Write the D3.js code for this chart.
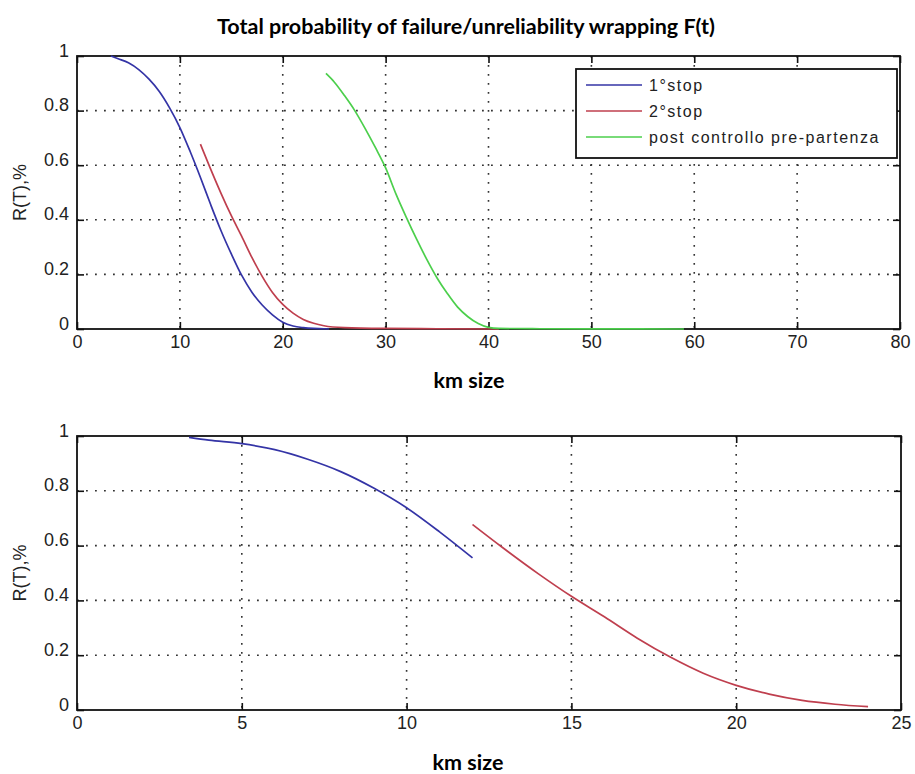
<!DOCTYPE html>
<html lang="en">
<head>
<meta charset="UTF-8">
<title>Total probability of failure/unreliability wrapping F(t)</title>
<script src="https://d3js.org/d3.v7.min.js"></script>
<style>
    body { margin: 0; background: #fff; }
    .tick text { font-family: "Liberation Sans", Arial, sans-serif; font-size: 18px; fill: #222; }
    .tick line { stroke: #111; stroke-width: 1.6; }
    .heading { font-family: Lato, "Open Sans", sans-serif; font-weight: bold; fill: #000; }
    .ylabel, .legend-text { font-family: "Liberation Sans", Arial, sans-serif; fill: #222; }
</style>
</head>
<body>
<svg id="chart" width="915" height="774"></svg>
<script>

// 1°stop (top panel, full range)
var stop1X = [3.3, 4, 5, 6, 7, 8, 9, 10, 11, 12, 13, 14, 15, 16, 17, 18, 19, 20, 21, 22, 23, 24, 24.5];
var stop1Y = [1.0, 0.99, 0.975, 0.95, 0.915, 0.87, 0.81, 0.738, 0.65, 0.555, 0.455, 0.36, 0.275, 0.197, 0.135, 0.088, 0.052, 0.025, 0.011, 0.005, 0.002, 0.001, 0.0];

// 2°stop (top panel, full range)
var stop2X = [12, 12.9, 14, 15, 16, 17, 18, 19, 20, 21, 22, 23, 24, 26, 30, 35, 41];
var stop2Y = [0.677, 0.594, 0.497, 0.415, 0.34, 0.262, 0.193, 0.134, 0.09, 0.058, 0.035, 0.021, 0.012, 0.005, 0.002, 0.001, 0.0];

// post controllo pre-partenza
var postX = [24.2, 25, 26, 27, 28, 29, 30, 31, 32, 33, 34, 35, 36, 37, 38, 39, 40, 41, 45, 50, 59];
var postY = [0.936, 0.905, 0.855, 0.80, 0.735, 0.665, 0.59, 0.495, 0.41, 0.33, 0.255, 0.187, 0.13, 0.08, 0.045, 0.02, 0.006, 0.002, 0.001, 0.0005, 0.0];

// bottom panel (zoom on 0-25 km)
var zoomStop1X = [3.4, 4, 5, 6, 7, 8, 9, 10, 11, 12];
var zoomStop1Y = [0.995, 0.985, 0.972, 0.95, 0.915, 0.87, 0.81, 0.738, 0.65, 0.555];
var zoomStop2X = [12, 12.9, 14, 15, 16, 17, 18, 19, 20, 21, 22, 23, 24];
var zoomStop2Y = [0.677, 0.594, 0.497, 0.415, 0.34, 0.262, 0.193, 0.134, 0.09, 0.058, 0.035, 0.021, 0.012];

var topXTicks = [0, 10, 20, 30, 40, 50, 60, 70, 80];
var bottomXTicks = [0, 5, 10, 15, 20, 25];
var yTicks = [0, 0.2, 0.4, 0.6, 0.8, 1];
var yTickLabels = ["0", "0.2", "0.4", "0.6", "0.8", "1"];

var legendLabels = ["1°stop", "2°stop", "post controllo pre-partenza"];
var seriesColors = ["#3434a6", "#bf3f4e", "#4ccf4c"];

var titleText = "Total probability of failure/unreliability wrapping F(t)";
var xTitle = "km size";
var yTitle = "R(T),%";

function toPoints(xs, ys) {
    return xs.map(function(d, i) { return [d, ys[i]]; });
}

var svg = d3.select("#chart");

function draw_panel(p) {
    var g = svg.append("g").attr("transform", "translate(" + p.left + "," + p.top + ")");

    var x = d3.scaleLinear().domain([0, p.xMax]).range([0, p.width]);
    var y = d3.scaleLinear().domain([0, 1]).range([p.height, 0]);

    // dotted grid
    g.selectAll(".vgrid")
        .data(p.xTicks.slice(1, -1))
        .enter().append("line")
        .attr("x1", function(d) { return x(d); })
        .attr("x2", function(d) { return x(d); })
        .attr("y1", 0).attr("y2", p.height)
        .attr("stroke", "#333").attr("stroke-width", 1.6)
        .attr("stroke-dasharray", "1.8,7.2");
    g.selectAll(".hgrid")
        .data(yTicks.slice(1, -1))
        .enter().append("line")
        .attr("y1", function(d) { return y(d); })
        .attr("y2", function(d) { return y(d); })
        .attr("x1", 0).attr("x2", p.width)
        .attr("stroke", "#333").attr("stroke-width", 1.6)
        .attr("stroke-dasharray", "1.8,7.2");

    // inward ticks on all four sides
    g.append("g")
        .attr("transform", "translate(0," + p.height + ")")
        .call(d3.axisBottom(x).tickValues(p.xTicks).tickSize(-7).tickSizeOuter(0).tickPadding(4).tickFormat(d3.format("d")))
        .call(function(a) { a.select(".domain").remove(); });
    g.append("g")
        .call(d3.axisTop(x).tickValues(p.xTicks).tickSize(-7).tickSizeOuter(0).tickFormat(""))
        .call(function(a) { a.select(".domain").remove(); });
    g.append("g")
        .call(d3.axisLeft(y).tickValues(yTicks).tickSize(-7).tickSizeOuter(0).tickPadding(8)
            .tickFormat(function(d, i) { return yTickLabels[i]; }))
        .call(function(a) { a.select(".domain").remove(); });
    g.append("g")
        .attr("transform", "translate(" + p.width + ",0)")
        .call(d3.axisRight(y).tickValues(yTicks).tickSize(-7).tickSizeOuter(0).tickFormat(""))
        .call(function(a) { a.select(".domain").remove(); });

    g.selectAll(".tick text").attr("dy", null);
    g.selectAll(".tick text").filter(function() { return this.getAttribute("y") > 0; })
        .attr("dy", "0.86em");

    // frame
    g.append("rect")
        .attr("width", p.width).attr("height", p.height)
        .attr("fill", "none").attr("stroke", "#111").attr("stroke-width", 1.8);

    // curves (drawn over the frame, as in the original)
    var line = d3.line()
        .x(function(d) { return x(d[0]); })
        .y(function(d) { return y(d[1]); })
        .curve(d3.curveMonotoneX);

    p.series.forEach(function(s) {
        g.append("path")
            .datum(s.points)
            .attr("d", line)
            .attr("fill", "none")
            .attr("stroke", s.color)
            .attr("stroke-width", 1.7);
    });

    // y label
    svg.append("text")
        .attr("class", "ylabel")
        .attr("transform", "translate(20," + (p.top + p.height / 2) + ") rotate(-90)")
        .attr("text-anchor", "middle")
        .attr("dy", "0.35em")
        .style("font-size", "18px")
        .text(yTitle);

    // x label
    svg.append("text")
        .attr("class", "heading")
        .attr("x", p.xTitleX).attr("y", p.xTitleY)
        .attr("text-anchor", "middle")
        .style("font-size", "21.5px")
        .text(xTitle);

    return g;
}

// title
svg.append("text")
    .attr("class", "heading")
    .attr("x", 466).attr("y", 34)
    .attr("text-anchor", "middle")
    .style("font-size", "21.5px")
    .text(titleText);

// top panel
draw_panel({
    left: 77, top: 56, width: 823, height: 273,
    xMax: 80, xTicks: topXTicks,
    xTitleX: 469, xTitleY: 388,
    series: [
        {points: toPoints(stop1X, stop1Y), color: seriesColors[0]},
        {points: toPoints(stop2X, stop2Y), color: seriesColors[1]},
        {points: toPoints(postX, postY), color: seriesColors[2]}
    ]
});

// legend
var legend = svg.append("g");
legend.append("rect")
    .attr("x", 576).attr("y", 69).attr("width", 321).attr("height", 89)
    .attr("fill", "#fff").attr("stroke", "#111").attr("stroke-width", 1.8);
var rows = legend.selectAll(".row")
    .data(legendLabels)
    .enter().append("g")
    .attr("transform", function(d, i) { return "translate(0," + (85 + i * 26) + ")"; });
rows.append("line")
    .attr("x1", 586).attr("x2", 642)
    .attr("stroke", function(d, i) { return seriesColors[i]; })
    .attr("stroke-width", 1.7);
rows.append("text")
    .attr("class", "legend-text")
    .attr("x", 649).attr("dy", "0.35em")
    .style("font-size", "16px")
    .style("letter-spacing", "1.5px")
    .text(function(d) { return d; });

// bottom panel
draw_panel({
    left: 77, top: 436, width: 824, height: 274,
    xMax: 25, xTicks: bottomXTicks,
    xTitleX: 468, xTitleY: 770,
    series: [
        {points: toPoints(zoomStop1X, zoomStop1Y), color: seriesColors[0]},
        {points: toPoints(zoomStop2X, zoomStop2Y), color: seriesColors[1]}
    ]
});

</script>
</body>
</html>
